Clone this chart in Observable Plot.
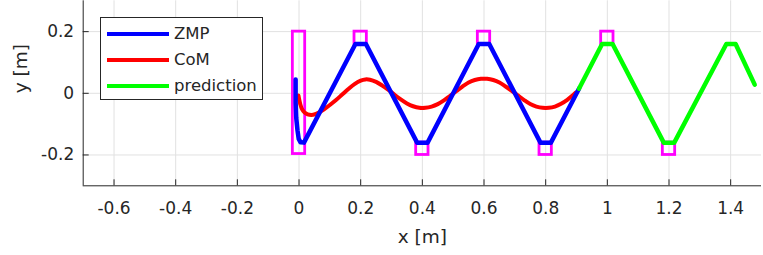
<!DOCTYPE html>
<html>
<head>
<meta charset="utf-8">
<script src="https://cdn.jsdelivr.net/npm/d3@7"></script>
<script src="https://cdn.jsdelivr.net/npm/@observablehq/plot@0.6"></script>
<style>
  html, body { margin: 0; padding: 0; background: #fff; }
  #wrap { position: relative; width: 763px; height: 255px; font-family: "DejaVu Sans", sans-serif; color: #262626; }
  #legend { position: absolute; left: 100px; top: 17px; width: 161px; height: 81px; border: 1px solid #262626; background: #fff; }
  .row { position: absolute; left: 0; height: 20px; }
  .sw { position: absolute; left: 6px; width: 62px; height: 4px; }
  .lab { position: absolute; left: 73px; font-size: 16.5px; line-height: 20px; white-space: nowrap; }
</style>
</head>
<body>
<div id="wrap"></div>
<script>
// Axis setup
const xDomain = [-0.7, 1.5];
const yDomain = [-0.3, 0.3];
const xTicks = [-0.6, -0.4, -0.2, 0, 0.2, 0.4, 0.6, 0.8, 1, 1.2, 1.4];
const xTickLabels = ["-0.6", "-0.4", "-0.2", "0", "0.2", "0.4", "0.6", "0.8", "1", "1.2", "1.4"];
const yTicks = [-0.2, 0, 0.2];
const yTickLabels = ["-0.2", "0", "0.2"];

// Series names / colours
const seriesNames = ["ZMP", "CoM", "prediction"];
const seriesColors = ["#0000ff", "#ff0000", "#00ff00"];

// ZMP (blue)
const zmpX = [-0.011, -0.011, -0.009, -0.005, -0.001, 0.005, 0.016, 0.183, 0.217, 0.383, 0.417, 0.583, 0.617, 0.783, 0.817, 0.908];
const zmpY = [0.045, -0.03, -0.08, -0.12, -0.148, -0.159, -0.16, 0.16, 0.16, -0.16, -0.16, 0.16, 0.16, -0.16, -0.16, 0.015];

// CoM (red)
const comX = [-0.002, 0.004, 0.01, 0.018, 0.028, 0.04, 0.052, 0.065, 0.08, 0.1, 0.12, 0.14, 0.16, 0.18, 0.2, 0.215, 0.23, 0.25, 0.27, 0.29, 0.31, 0.33, 0.35, 0.37, 0.39, 0.41, 0.43, 0.45, 0.47, 0.49, 0.51, 0.53, 0.55, 0.57, 0.59, 0.61, 0.63, 0.65, 0.67, 0.69, 0.71, 0.73, 0.75, 0.77, 0.79, 0.81, 0.83, 0.85, 0.87, 0.885, 0.897];
const comY = [-0.007, -0.035, -0.052, -0.062, -0.068, -0.07, -0.068, -0.062, -0.053, -0.038, -0.022, -0.004, 0.014, 0.03, 0.041, 0.045, 0.044, 0.037, 0.025, 0.011, -0.005, -0.02, -0.033, -0.042, -0.047, -0.047, -0.043, -0.035, -0.023, -0.008, 0.007, 0.022, 0.035, 0.043, 0.047, 0.047, 0.043, 0.035, 0.022, 0.008, -0.007, -0.022, -0.035, -0.043, -0.047, -0.047, -0.043, -0.034, -0.021, -0.009, 0.002];

// prediction (green)
const predX = [0.908, 0.983, 1.017, 1.183, 1.217, 1.386, 1.416, 1.478];
const predY = [0.015, 0.16, 0.16, -0.16, -0.16, 0.16, 0.16, 0.028];

// footstep rectangles (magenta)
const footX1 = [-0.02, 0.18, 0.38, 0.58, 0.78, 0.98, 1.18];
const footX2 = [0.02, 0.22, 0.42, 0.62, 0.82, 1.02, 1.22];
const footY1 = [-0.197, 0.16, -0.2, 0.16, -0.2, 0.16, -0.2];
const footY2 = [0.2, 0.2, -0.16, 0.2, -0.16, 0.2, -0.16];

const toXY = (xs, ys) => xs.map((x, i) => ({x, y: ys[i]}));
const zmp = toXY(zmpX, zmpY);
const com = toXY(comX, comY);
const pred = toXY(predX, predY);
const feet = footX1.map((x1, i) => ({x1, x2: footX2[i], y1: footY1[i], y2: footY2[i]}));

const W = 763, H = 255;
const mL = 82.7, mR = 2, mT = 0.3, mB = 69.7;
const frameW = W - mL - mR, frameH = H - mT - mB;
const axisColor = "#262626";
const gridColor = "#e1e1e1";

const chart = Plot.plot({
  width: W, height: H,
  marginLeft: mL, marginRight: mR, marginTop: mT, marginBottom: mB,
  x: {domain: xDomain},
  y: {domain: yDomain},
  style: {fontFamily: "DejaVu Sans, sans-serif", fontSize: "17px", color: axisColor, background: "#fff", overflow: "visible"},
  marks: [
    Plot.gridX(xTicks, {stroke: gridColor, strokeOpacity: 1}),
    Plot.gridY(yTicks, {stroke: gridColor, strokeOpacity: 1}),
    Plot.ruleY([yDomain[0]], {stroke: axisColor, strokeWidth: 1}),
    Plot.ruleX([xDomain[0]], {stroke: axisColor, strokeWidth: 1}),
    Plot.tickX(xTicks, {x: d => d, stroke: axisColor, insetTop: frameH - 6}),
    Plot.tickY(yTicks, {y: d => d, stroke: axisColor, insetRight: frameW - 6}),
    Plot.axisX(xTicks, {tickSize: 0, tickPadding: 16, fontSize: 17, label: null, tickFormat: (d, i) => xTickLabels[i]}),
    Plot.axisY(yTicks, {tickSize: 0, tickPadding: 9, fontSize: 17, label: null, tickFormat: (d, i) => yTickLabels[i]}),
    Plot.rect(feet, {x1: "x1", x2: "x2", y1: "y1", y2: "y2", fill: "none", stroke: "#ff00ff", strokeWidth: 2.8}),
    Plot.line(com, {x: "x", y: "y", stroke: seriesColors[1], strokeWidth: 4, curve: "catmull-rom"}),
    Plot.line(zmp, {x: "x", y: "y", stroke: seriesColors[0], strokeWidth: 4.5}),
    Plot.line(pred, {x: "x", y: "y", stroke: seriesColors[2], strokeWidth: 4.5}),
    Plot.text(["x [m]"], {text: d => d, frameAnchor: "bottom", dy: 57, fontSize: 18.5, fill: axisColor}),
    Plot.text(["y [m]"], {text: d => d, frameAnchor: "left", dx: -62, rotate: -90, fontSize: 18.5, fill: axisColor})
  ]
});

const wrap = document.getElementById("wrap");
wrap.appendChild(chart);

const legend = document.createElement("div");
legend.id = "legend";
seriesNames.forEach((name, i) => {
  const row = document.createElement("div");
  row.className = "row";
  row.style.top = (5.5 + i * 26.2) + "px";
  row.style.width = "100%";
  const sw = document.createElement("div");
  sw.className = "sw";
  sw.style.top = "8px";
  sw.style.background = seriesColors[i];
  const lab = document.createElement("div");
  lab.className = "lab";
  lab.style.top = "0px";
  lab.textContent = name;
  row.appendChild(sw);
  row.appendChild(lab);
  legend.appendChild(row);
});
wrap.appendChild(legend);
</script>
</body>
</html>
